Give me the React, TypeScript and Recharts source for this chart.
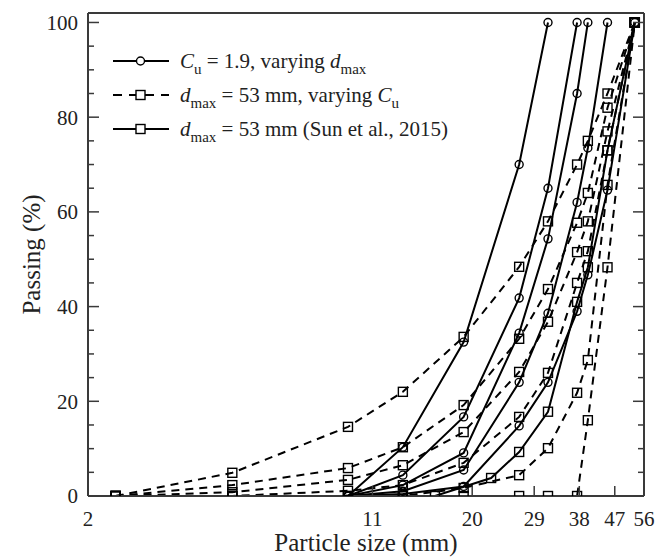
import React from 'react'
import { ComposedChart, Line, XAxis, YAxis } from 'recharts'

const FONT = '"Liberation Serif", Tinos, "Nimbus Roman", "DejaVu Serif", "Noto Serif", serif'
const INK = '#222'
const FRAME = '#3a3a3a'

// sieve sizes (mm)
const sizesCu = [9.5, 13.2, 19, 26.5, 31.5, 37.5, 40, 45, 53]
const sizesCuVar = [2.36, 4.75, 9.5, 13.2, 19, 26.5, 31.5, 37.5, 40, 45, 53]
const sizesSun = [16, 22.4, 26.5, 31.5, 37.5, 40, 45, 53]

// Cu = 1.9, varying dmax (passing %)
const passDmax31 = [0, 10.3, 32.5, 70, 100]
const passDmax37 = [0, 4.4, 16.7, 41.8, 65, 100]
const passDmax40 = [0, 2.3, 9.1, 34.4, 54.3, 85, 100]
const passDmax45 = [0, 1, 5.5, 24, 38.6, 62, 73.5, 100]
const passDmax53 = [0, 0.4, 2, 14.8, 24, 39, 46.7, 64.6, 100]

// dmax = 53 mm, varying Cu
const passCu1 = [0, 4.9, 14.6, 22, 33.6, 48.4, 58, 70, 75, 85, 100]
const passCu2 = [0, 2.3, 5.9, 10.3, 19.2, 33.2, 43.7, 57.7, 64, 82, 100]
const passCu3 = [0, 0.8, 3.4, 6.5, 13.5, 26.2, 36.8, 51.5, 58, 77, 100]
const passCu4 = [0, 0, 1.1, 2.3, 7, 16.7, 26, 45, 51.7, 73, 100]
const passCu5 = [0, 0, 0, 0, 1.7, 4.4, 10.1, 21.8, 28.7, 65.7, 100]
const passCu6 = [0, 0, 0, 0, 0, 0, 0, 0, 16, 48.3, 100]

// Sun et al. (2015)
const passSun = [0, 3.8, 9.3, 17.8, 41, 48.3, 73, 100]

const xTicks = [2, 11, 20, 29, 38, 47, 56]
const yTicks = [0, 5, 10, 15, 20, 25, 30, 35, 40, 45, 50, 55, 60, 65, 70, 75, 80, 85, 90, 95, 100]

const toRows = (sizes: number[], pass: number[]) => pass.map((p, i) => ({ d: sizes[i], p }))

const circleCurves = [passDmax31, passDmax37, passDmax40, passDmax45, passDmax53].map(p => toRows(sizesCu, p))
const dashedCurves = [passCu1, passCu2, passCu3, passCu4, passCu5, passCu6].map(p => toRows(sizesCuVar, p))
const sunCurve = toRows(sizesSun, passSun)

const Square = (props: any) => {
    const { cx, cy, index } = props
    if (cx == null || cy == null) return <g key={index} />
    return <rect key={index} x={cx - 4.5} y={cy - 4.5} width={9} height={9} fill="none" stroke="#000" strokeWidth={1.4} />
}

const circleDot = { r: 4, fill: 'none', stroke: '#000', strokeWidth: 1.4 }

const isMajor = (v: number) => v % 20 === 0

// left axis: labels + inward ticks
const LeftTick = (props: any) => {
    const { x, y, payload } = props
    const v = payload.value
    const edge = x + 10
    return (
        <g>
            <line x1={edge} x2={edge + (isMajor(v) ? 11 : 6)} y1={y} y2={y} stroke={FRAME} strokeWidth={1.5} />
            {isMajor(v) && (
                <text x={x} y={y} dy="0.35em" textAnchor="end" fontFamily={FONT} fontSize={21} fill={INK}>{v}</text>
            )}
        </g>
    )
}

const RightTick = (props: any) => {
    const { x, y, payload } = props
    const v = payload.value
    return <line x1={x} x2={x - (isMajor(v) ? 11 : 6)} y1={y} y2={y} stroke={FRAME} strokeWidth={1.5} />
}

const BottomTick = (props: any) => {
    const { x, y, payload } = props
    const edge = y - 15
    return (
        <g>
            <line x1={x} x2={x} y1={edge} y2={edge - 10} stroke={FRAME} strokeWidth={1.5} />
            <text x={x} y={y} dy="0.71em" textAnchor="middle" fontFamily={FONT} fontSize={21} fill={INK}>{payload.value}</text>
        </g>
    )
}

const TopTick = (props: any) => {
    const { x, y } = props
    return <line x1={x} x2={x} y1={y} y2={y + 10} stroke={FRAME} strokeWidth={1.5} />
}

const frameLine = { stroke: FRAME, strokeWidth: 2 }

function LegendRow(props: { dashed?: boolean, square?: boolean, children: any }) {
    return (
        <div style={{ display: 'flex', alignItems: 'center', height: 34 }}>
            <svg width={58} height={20} style={{ marginRight: 10 }}>
                <line x1={1} x2={57} y1={10} y2={10} stroke="#000" strokeWidth={2}
                    strokeDasharray={props.dashed ? '9 7' : undefined} />
                {props.square
                    ? <rect x={24} y={5.5} width={9} height={9} fill="#fff" stroke="#000" strokeWidth={1.4} />
                    : <circle cx={28.5} cy={10} r={4} fill="#fff" stroke="#000" strokeWidth={1.4} />}
            </svg>
            <span style={{ whiteSpace: 'nowrap' }}>{props.children}</span>
        </div>
    )
}

const Sub = (props: { children: any }) => (
    <span style={{ fontSize: 15, position: 'relative', top: 6 }}>{props.children}</span>
)

export default function App() {
    return (
        <div style={{ position: 'absolute', left: 0, top: 0, width: 665, height: 559, background: '#fff' }}>
            <ComposedChart width={665} height={559} margin={{ top: 13, right: 21, bottom: 3, left: 28 }}>
                <XAxis xAxisId="x" dataKey="d" type="number" scale="log" domain={[2, 56]} allowDataOverflow
                    ticks={xTicks} interval={0} tickLine={false} tickSize={6} tickMargin={9} height={60}
                    axisLine={frameLine} tick={BottomTick}
                    label={{ value: 'Particle size (mm)', position: 'insideBottom', offset: 5,
                        style: { fontFamily: FONT, fontSize: 25, fill: INK } }} />
                <XAxis xAxisId="top" orientation="top" mirror type="number" scale="log" domain={[2, 56]}
                    allowDataOverflow ticks={xTicks} interval={0} tickLine={false} tickSize={0} tickMargin={0}
                    axisLine={frameLine} tick={TopTick} />
                <YAxis yAxisId="y" type="number" domain={[0, 102]} allowDataOverflow ticks={yTicks} interval={0}
                    tickLine={false} tickSize={6} tickMargin={4} width={60} axisLine={frameLine} tick={LeftTick}
                    label={{ value: 'Passing (%)', angle: -90, position: 'insideLeft', offset: 3,
                        style: { fontFamily: FONT, fontSize: 25, fill: INK, textAnchor: 'middle' } }} />
                <YAxis yAxisId="right" orientation="right" mirror type="number" domain={[0, 102]} allowDataOverflow
                    ticks={yTicks} interval={0} tickLine={false} tickSize={0} tickMargin={0}
                    axisLine={frameLine} tick={RightTick} />

                {circleCurves.map((rows, i) => (
                    <Line key={`c${i}`} xAxisId="x" yAxisId="y" data={rows} dataKey="p" type="linear"
                        stroke="#000" strokeWidth={2} dot={circleDot} activeDot={false} isAnimationActive={false} />
                ))}
                {dashedCurves.map((rows, i) => (
                    <Line key={`s${i}`} xAxisId="x" yAxisId="y" data={rows} dataKey="p" type="linear"
                        stroke="#000" strokeWidth={2} strokeDasharray="8 6" dot={Square} activeDot={false}
                        isAnimationActive={false} />
                ))}
                <Line xAxisId="x" yAxisId="y" data={sunCurve} dataKey="p" type="linear"
                    stroke="#000" strokeWidth={2} dot={Square} activeDot={false} isAnimationActive={false} />
            </ComposedChart>

            <div style={{ position: 'absolute', left: 112, top: 44, fontFamily: FONT, fontSize: 21, color: INK }}>
                <LegendRow><i>C</i><Sub>u</Sub> = 1.9, varying <i>d</i><Sub>max</Sub></LegendRow>
                <LegendRow dashed square><i>d</i><Sub>max</Sub> = 53 mm, varying <i>C</i><Sub>u</Sub></LegendRow>
                <LegendRow square><i>d</i><Sub>max</Sub> = 53 mm (Sun et al., 2015)</LegendRow>
            </div>
        </div>
    )
}
